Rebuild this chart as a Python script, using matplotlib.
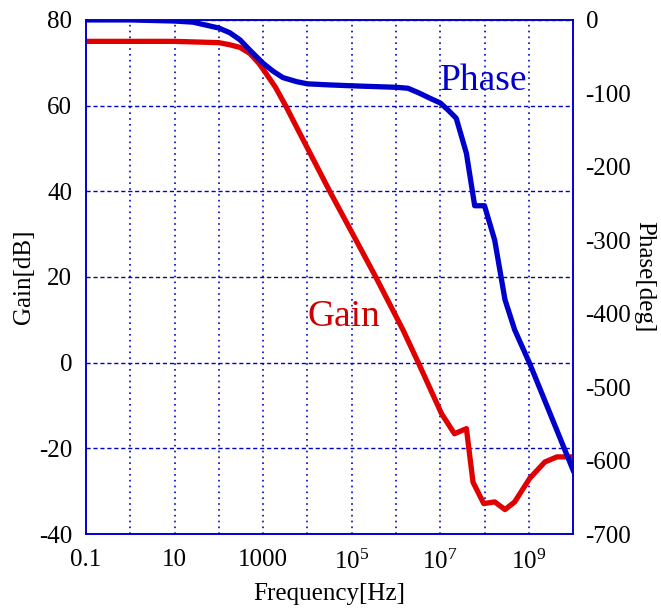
import numpy as np
import matplotlib
matplotlib.use("Agg")
import matplotlib.pyplot as plt

plt.rcParams['font.family'] = ['Liberation Serif', 'DejaVu Serif']
plt.rcParams['mathtext.fontset'] = 'custom'
plt.rcParams['mathtext.rm'] = 'Liberation Serif'
plt.rcParams['mathtext.it'] = 'Liberation Serif:italic'
plt.rcParams['axes.unicode_minus'] = False

# datos
freq_gain = [0.1, 1, 10, 100, 178, 300, 500, 800, 1100, 1900, 3300, 5700, 3.2e4, 1e5,
             3.5e5, 1.45e6, 3.2e6, 1.07e7, 2.1e7, 3.9e7, 5.5e7, 9.6e7, 1.7e8, 2.9e8,
             4.8e8, 1.05e9, 2.3e9, 4.3e9, 1e10]
gain_db = [75, 75, 75, 74.7, 74.2, 73.6, 72.2, 69.9, 67.9, 64.3, 59.8, 55.0, 40, 30.5,
           20, 7.6, 0, -11.9, -16.6, -15.4, -27.9, -32.9, -32.5, -34.3,
           -32.5, -27, -23.2, -22, -22]

freq_phase = [0.1, 1, 10, 26, 100, 178, 300, 500, 1000, 1700, 2800, 5700, 1e4, 3.2e4,
              1.4e5, 1e6, 1.86e6, 3.2e6, 5.9e6, 1e7, 1.5e7, 2.3e7, 3.9e7, 6e7, 1e8,
              1.7e8, 2.9e8, 4.8e8, 1.05e9, 1e10]
phase_deg = [0, 0, -1.5, -3, -11, -17.5, -27, -41, -59, -70, -78.5, -84, -87, -88.5,
             -90, -91.7, -93, -99, -106.7, -113, -122.6, -133.9, -181.6, -253, -253,
             -300, -381, -422, -468, -613]

xtick_vals = [0.1, 1, 10, 100, 1000, 1e4, 1e5, 1e6, 1e7, 1e8, 1e9, 1e10]
xtick_labels = ['0.1', '', '10', '', '1000', '', r'$10^{5}$', '', r'$10^{7}$', '', r'$10^{9}$', '']
gain_ticks = [-40, -20, 0, 20, 40, 60, 80]
phase_ticks = [-700, -600, -500, -400, -300, -200, -100, 0]

azul = '#0000cc'
rojo = '#e00000'

fig = plt.figure(figsize=(6.61, 6.08), dpi=100)
ax = fig.add_axes([0.130, 0.1217, 0.737, 0.8455])
ax2 = ax.twinx()

ax.set_xscale('log')
ax.set_xlim(0.1, 1e10)
ax.set_ylim(-40, 80)
ax2.set_ylim(-700, 0)

ax.set_xticks(xtick_vals)
ax.set_xticklabels(xtick_labels)
ax.xaxis.set_minor_locator(matplotlib.ticker.NullLocator())
ax.set_yticks(gain_ticks)
ax2.set_yticks(phase_ticks)
ax.tick_params(axis='x', length=0, labelsize=18, pad=11)
ax.tick_params(axis='y', length=0, labelsize=18, pad=10)
ax2.tick_params(length=0, labelsize=18, pad=9)

# rejilla
for xv in xtick_vals:
    ax.axvline(xv, color=azul, lw=1.2, ls=(0, (1, 2.5)), zorder=1)
for yv in gain_ticks:
    c = '#101060' if yv == 20 else azul
    ax.axhline(yv, color=c, lw=1.0, ls=(0, (3, 2)), zorder=1)

for a in (ax, ax2):
    for s in a.spines.values():
        s.set_color(azul)
        s.set_linewidth(1.2)

ax.plot(freq_gain, gain_db, color=rojo, lw=3.8, zorder=3, solid_joinstyle='round')
ax2.plot(freq_phase, phase_deg, color=azul, lw=3.8, zorder=3, solid_joinstyle='round')

ax.text(1e4, 8.5, 'Gain', color='#cc0000', fontsize=27, ha='left', va='baseline')
ax2.text(1e7, -95, 'Phase', color=azul, fontsize=27, ha='left', va='baseline')

ax.set_xlabel('Frequency[Hz]', fontsize=18, labelpad=7)
ax.set_ylabel('Gain[dB]', fontsize=18, labelpad=3)
ax2.set_ylabel('Phase[deg]', fontsize=18, rotation=270, labelpad=17)

fig.savefig('out.png', dpi=100)
